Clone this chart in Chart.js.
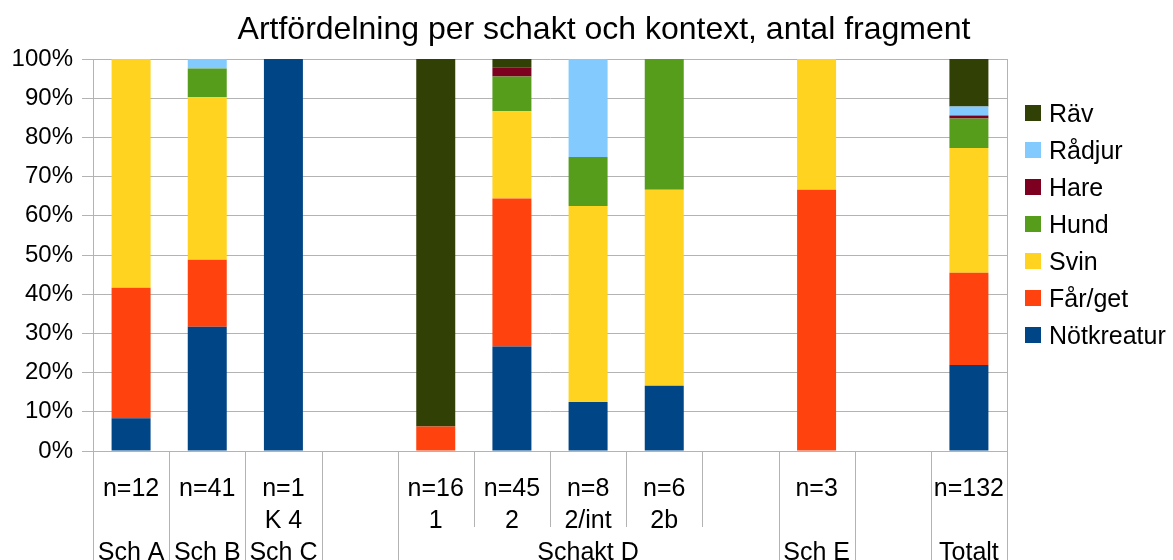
<!DOCTYPE html>
<html>
<head>
<meta charset="utf-8">
<script src="https://cdn.jsdelivr.net/npm/chart.js@4/dist/chart.umd.min.js"></script>
<style>
  html, body { margin: 0; padding: 0; background: #fff; }
  #wrap { width: 1173px; height: 560px; }
</style>
</head>
<body>
<div id="wrap"><canvas id="c" width="1173" height="560"></canvas></div>
<script>
// Fragment counts per context (columns) and species (series)
const totals    = [12, 41, 1, 0, 16, 45, 8, 6, 0, 3, 0, 132];
const subLabels = ['', '', 'K 4', '', '1', '2', '2/int', '2b', '', '', '', ''];
const groupLabels = ['Sch A', 'Sch B', 'Sch C', '', 'Schakt D', 'Sch E', '', 'Totalt'];
const groupSpans  = [1, 1, 1, 1, 5, 1, 1, 1];

const speciesNames = ['Nötkreatur', 'Får/get', 'Svin', 'Hund', 'Hare', 'Rådjur', 'Räv'];
const notkreatur = [1, 13, 1, 0, 0, 12, 1, 1, 0, 0, 0, 29];
const farget     = [4, 7, 0, 0, 1, 17, 0, 0, 0, 2, 0, 31];
const svin       = [7, 17, 0, 0, 0, 10, 4, 3, 0, 1, 0, 42];
const hund       = [0, 3, 0, 0, 0, 4, 1, 2, 0, 0, 0, 10];
const hare       = [0, 0, 0, 0, 0, 1, 0, 0, 0, 0, 0, 1];
const radjur     = [0, 1, 0, 0, 0, 0, 2, 0, 0, 0, 0, 3];
const rav        = [0, 0, 0, 0, 15, 1, 0, 0, 0, 0, 0, 16];
const yTicks = [0, 10, 20, 30, 40, 50, 60, 70, 80, 90, 100];

const speciesColors = ['#004586', '#ff420e', '#ffd320', '#579d1c', '#7e0021', '#83caff', '#314004'];
const counts = [notkreatur, farget, svin, hund, hare, radjur, rav];

const FONT = '"Liberation Sans", Arial, sans-serif';
const GRID = '#b3b3b3';

const categoryLabels = totals.map(n => n > 0 ? 'n=' + n : '');

// share of each species within its column, in percent
const toPercent = arr => arr.map((v, i) => totals[i] > 0 ? v / totals[i] * 100 : 0);

const datasets = counts.map((arr, k) => ({
  label: speciesNames[k],
  data: toPercent(arr),
  backgroundColor: speciesColors[k],
  borderWidth: 0,
  categoryPercentage: 1,
  barPercentage: 0.512
}));

// Title, legend and the two-level category axis are painted here
const decorations = {
  id: 'decorations',
  afterDraw(chart) {
    const ctx = chart.ctx;
    const xs = chart.scales.x;
    const area = chart.chartArea;
    const n = totals.length;
    const step = (xs.right - xs.left) / n;
    ctx.save();

    // category separators below the axis
    const groupEdges = new Set([0]);
    let acc = 0;
    groupSpans.forEach(s => { acc += s; groupEdges.add(acc); });
    ctx.strokeStyle = GRID;
    ctx.lineWidth = 1;
    for (let i = 0; i <= n; i++) {
      const x = Math.round(xs.left + i * step) + 0.5;
      const y0 = i === n ? area.top : area.bottom;
      const y1 = groupEdges.has(i) ? chart.height : 527;
      ctx.beginPath();
      ctx.moveTo(x, y0);
      ctx.lineTo(x, y1);
      ctx.stroke();
    }

    // category labels
    ctx.fillStyle = '#000';
    ctx.font = '25px ' + FONT;
    ctx.textAlign = 'center';
    ctx.textBaseline = 'alphabetic';
    for (let i = 0; i < n; i++) {
      const cx = xs.getPixelForValue(i);
      if (categoryLabels[i]) ctx.fillText(categoryLabels[i], cx, 496);
      if (subLabels[i]) ctx.fillText(subLabels[i], cx, 528);
    }
    let start = 0;
    groupSpans.forEach((s, g) => {
      const cx = xs.left + (start + s / 2) * step;
      if (groupLabels[g]) ctx.fillText(groupLabels[g], cx, 559.5);
      start += s;
    });

    // title
    ctx.font = '32px ' + FONT;
    ctx.fillText('Artfördelning per schakt och kontext, antal fragment', 604, 39);

    // legend, top entry is the last series
    ctx.font = '25px ' + FONT;
    ctx.textAlign = 'left';
    for (let k = datasets.length - 1, row = 0; k >= 0; k--, row++) {
      const cy = 112.5 + row * 37.1;
      ctx.fillStyle = speciesColors[k];
      ctx.fillRect(1025, Math.round(cy - 8), 16, 16);
      ctx.fillStyle = '#000';
      ctx.fillText(speciesNames[k], 1049, cy + 9);
    }
    ctx.restore();
  }
};

new Chart(document.getElementById('c'), {
  type: 'bar',
  data: { labels: categoryLabels, datasets },
  options: {
    responsive: false,
    animation: false,
    layout: { padding: { top: 59, right: 166, bottom: 0, left: 0 } },
    plugins: {
      legend: { display: false },
      title: { display: false },
      tooltip: { enabled: false }
    },
    scales: {
      x: {
        stacked: true,
        grid: { display: false },
        border: { display: true, color: GRID, width: 1 },
        ticks: { display: false },
        afterFit(scale) { scale.height = 109; }
      },
      y: {
        stacked: true,
        min: 0,
        max: 100,
        afterBuildTicks(scale) { scale.ticks = yTicks.map(v => ({ value: v })); },
        ticks: {
          callback: v => v + '%',
          color: '#000',
          font: { family: FONT, size: 24 },
          padding: 9
        },
        grid: { color: GRID, lineWidth: 1, tickLength: 11, drawTicks: true },
        border: { display: true, color: GRID, width: 1 },
        afterFit(scale) { scale.width = 93; }
      }
    }
  },
  plugins: [decorations]
});
</script>
</body>
</html>
